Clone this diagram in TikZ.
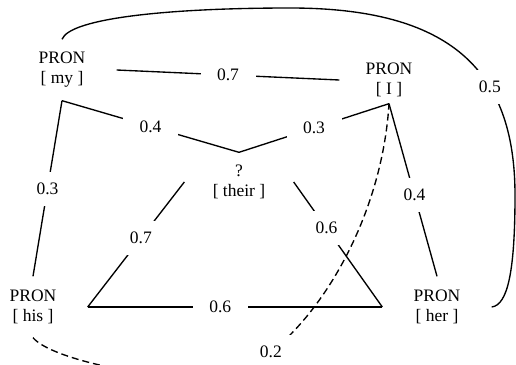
\documentclass[tikz,border=0pt]{standalone}
\usepackage{fontspec}
\setmainfont{Liberation Serif}
\newfontfamily\tnr{Liberation Serif}
\usetikzlibrary{positioning}

\begin{document}
\begin{tikzpicture}[x=1pt, y=-1pt, on grid, line width=1.35pt,
    font=\tnr\fontsize{17.5}{20}\selectfont,
    word/.style={align=center, inner sep=0pt, minimum width=108pt,
      minimum height=60pt},
    wt/.style={fill=white, inner sep=0pt, minimum width=55pt,
      minimum height=34pt}]
  \useasboundingbox (0,0) rectangle (516,364);
  \clip (0,0) rectangle (516,364);
  \node[word] (my) at (62,70) {PRON\\{[ my ]}};%
  \node[word, right=327pt of my, yshift=-10pt, minimum width=98pt,
    minimum height=46pt] (I) {PRON\\{[ I ]}};%
  \node[word, below right=112pt and 177pt of my, minimum height=58pt]
    (their) {?\\{[ their ]}};%
  \node[word, below=237pt of my, xshift=-29pt] (his) {PRON\\{[ his ]}};%
  \node[word, right=404pt of his] (her) {PRON\\{[ her ]}};%
  \path (my.east) edge node[wt] {0.7} (I.west)
    (my.south) edge node[wt] {0.4} (their.north)
    (I.south) edge node[wt] {0.3} (their.north)
    (my.south) edge node[wt] {0.3} (his.north)
    (I.south) edge node[wt, pos=0.53] {0.4} (her.north)
    (his.east) edge node[wt, pos=0.55] {0.7} (their.west)
    (their.east) edge node[wt, pos=0.37] {0.6} (her.west)
    (his.east) edge node[wt, pos=0.45] {0.6} (her.west);%
  \draw (my.north) .. controls (70,18) and (170,8) .. (290,8)
    .. controls (450,8) and (515,70) .. node[wt, pos=0.65] {0.5} (515,195)
    .. controls (515,270) and (508,305) .. (her.east);%
  \draw[dash pattern=on 7pt off 4pt] (his.south)
    .. controls (50,358) and (140,378) .. (210,378)
    .. controls (280,378) and (380,250) .. node[wt, pos=0.27] {0.2} (I.south);%
\end{tikzpicture}
\end{document}
